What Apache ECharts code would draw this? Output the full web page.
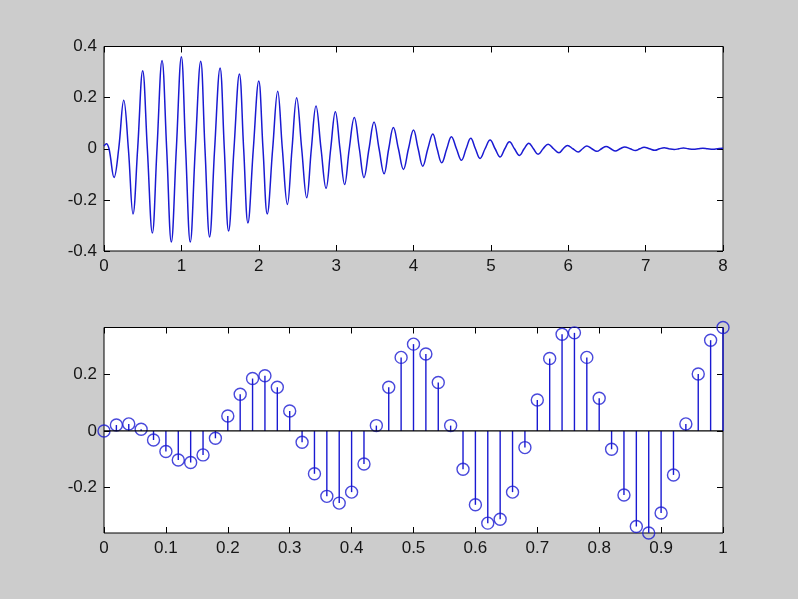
<!DOCTYPE html>
<html>
<head>
<meta charset="utf-8">
<script src="https://cdn.jsdelivr.net/npm/echarts@6/dist/echarts.min.js"></script>
<style>
  html, body { margin: 0; padding: 0; background: #cccccc; }
  #chart { width: 798px; height: 599px; }
</style>
</head>
<body>
<div id="chart"></div>
<script>
// ---- Top panel: damped oscillation (t, value) ----
var topPoints = [
  [0, 0.01], [0.03, 0.02], [0.065, 0], [0.13, -0.112], [0.19, 0],
  [0.255, 0.19], [0.315, 0], [0.375, -0.255], [0.435, 0],
  [0.5, 0.305], [0.56, 0], [0.625, -0.33], [0.685, 0],
  [0.75, 0.345], [0.81, 0], [0.87, -0.365], [0.935, 0],
  [1.0, 0.36], [1.055, 0], [1.115, -0.365], [1.18, 0],
  [1.25, 0.342], [1.305, 0], [1.365, -0.345], [1.43, 0],
  [1.5, 0.316], [1.555, 0], [1.61, -0.322], [1.68, 0],
  [1.75, 0.292], [1.805, 0], [1.86, -0.29], [1.93, 0],
  [2.0, 0.265], [2.055, 0], [2.11, -0.255], [2.18, 0],
  [2.245, 0.225], [2.305, 0], [2.37, -0.218], [2.43, 0],
  [2.49, 0.2], [2.555, 0], [2.62, -0.192], [2.68, 0],
  [2.74, 0.167], [2.805, 0], [2.87, -0.155], [2.93, 0],
  [2.99, 0.145], [3.05, 0], [3.11, -0.14], [3.17, 0],
  [3.235, 0.122], [3.3, 0], [3.36, -0.113], [3.425, 0],
  [3.49, 0.105], [3.555, 0], [3.62, -0.098], [3.68, 0],
  [3.74, 0.083], [3.805, 0], [3.87, -0.081], [3.935, 0],
  [4.0, 0.073], [4.06, 0], [4.12, -0.068], [4.185, 0],
  [4.25, 0.058], [4.305, 0], [4.365, -0.055], [4.43, 0],
  [4.49, 0.047], [4.555, 0], [4.62, -0.045], [4.68, 0],
  [4.74, 0.041], [4.8, 0], [4.86, -0.038], [4.925, 0],
  [4.99, 0.034], [5.055, 0], [5.12, -0.032], [5.18, 0],
  [5.24, 0.027], [5.305, 0], [5.37, -0.026], [5.43, 0],
  [5.49, 0.022], [5.55, 0], [5.61, -0.022], [5.675, 0],
  [5.74, 0.018], [5.81, 0], [5.88, -0.016], [5.935, 0],
  [5.99, 0.013], [6.06, 0], [6.13, -0.013], [6.185, 0],
  [6.24, 0.011], [6.305, 0], [6.37, -0.01], [6.43, 0],
  [6.49, 0.009], [6.55, 0], [6.61, -0.009], [6.67, 0],
  [6.73, 0.007], [6.8, 0], [6.87, -0.007], [6.925, 0],
  [6.98, 0.006], [7.05, 0], [7.12, -0.006], [7.18, 0],
  [7.24, 0.004], [7.3, 0], [7.37, -0.003], [7.43, 0],
  [7.49, 0.003], [7.55, 0], [7.62, -0.002], [7.68, 0],
  [7.74, 0.002], [7.8, 0], [7.87, -0.002], [7.93, 0],
  [8.0, 0.002]
];

// ---- Bottom panel: stem samples ----
var stemT = [
  0, 0.02, 0.04, 0.06, 0.08, 0.10, 0.12, 0.14, 0.16, 0.18,
  0.20, 0.22, 0.24, 0.26, 0.28, 0.30, 0.32, 0.34, 0.36, 0.38,
  0.40, 0.42, 0.44, 0.46, 0.48, 0.50, 0.52, 0.54, 0.56, 0.58,
  0.60, 0.62, 0.64, 0.66, 0.68, 0.70, 0.72, 0.74, 0.76, 0.78,
  0.80, 0.82, 0.84, 0.86, 0.88, 0.90, 0.92, 0.94, 0.96, 0.98, 1.00
];
var stemV = [
  0, 0.021, 0.025, 0.006, -0.032, -0.073, -0.103, -0.112, -0.085, -0.026,
  0.053, 0.13, 0.186, 0.196, 0.155, 0.071, -0.04, -0.152, -0.232, -0.256,
  -0.217, -0.117, 0.019, 0.155, 0.261, 0.308, 0.273, 0.172, 0.019, -0.136,
  -0.262, -0.327, -0.313, -0.217, -0.059, 0.11, 0.257, 0.343, 0.348, 0.261,
  0.116, -0.065, -0.227, -0.339, -0.362, -0.291, -0.156, 0.025, 0.202, 0.322, 0.367
];

// tick labels
var topXTicks = [0, 1, 2, 3, 4, 5, 6, 7, 8];
var topYTicks = [-0.4, -0.2, 0, 0.2, 0.4];
var botXTicks = [0, 0.1, 0.2, 0.3, 0.4, 0.5, 0.6, 0.7, 0.8, 0.9, 1];
var botYTicks = [-0.2, 0, 0.2];

var stemData = stemT.map(function (t, i) { return [t, stemV[i]]; });
var botMin = Math.min.apply(null, stemV);
var botMax = Math.max.apply(null, stemV);
var baseLine = [[botXTicks[0], 0], [botXTicks[botXTicks.length - 1], 0]];

var blue = '#1a1ad2';
var font = { color: '#161616', fontSize: 17, fontFamily: 'Liberation Sans, Arial, sans-serif' };
var tickStyle = { color: '#000', width: 1 };

function tickAxis(extra) {
  var base = {
    axisLine: { show: false, onZero: false },
    axisTick: { show: true, inside: true, length: 6, lineStyle: tickStyle },
    splitLine: { show: false },
    axisLabel: Object.assign({ show: true, margin: 7 }, font)
  };
  return Object.assign(base, extra);
}

var chart = echarts.init(document.getElementById('chart'), null, { renderer: 'canvas' });
chart.setOption({
  animation: false,
  backgroundColor: '#cccccc',
  grid: [
    { left: 104, top: 46.5, width: 619, height: 204.5, show: true, backgroundColor: '#ffffff', borderColor: '#000', borderWidth: 1 },
    { left: 104, top: 327.5, width: 619, height: 205.5, show: true, backgroundColor: '#ffffff', borderColor: '#000', borderWidth: 1 }
  ],
  xAxis: [
    tickAxis({ type: 'value', gridIndex: 0, position: 'bottom', min: topXTicks[0], max: topXTicks[topXTicks.length - 1], interval: 1 }),
    tickAxis({ type: 'value', gridIndex: 0, position: 'top', min: topXTicks[0], max: topXTicks[topXTicks.length - 1], interval: 1, axisLabel: { show: false } }),
    tickAxis({ type: 'value', gridIndex: 1, position: 'bottom', min: botXTicks[0], max: botXTicks[botXTicks.length - 1], interval: 0.1 }),
    tickAxis({ type: 'value', gridIndex: 1, position: 'top', min: botXTicks[0], max: botXTicks[botXTicks.length - 1], interval: 0.1, axisLabel: { show: false } })
  ],
  yAxis: [
    tickAxis({ type: 'value', gridIndex: 0, position: 'left', min: topYTicks[0], max: topYTicks[topYTicks.length - 1], interval: 0.2 }),
    tickAxis({ type: 'value', gridIndex: 0, position: 'right', min: topYTicks[0], max: topYTicks[topYTicks.length - 1], interval: 0.2, axisLabel: { show: false } }),
    tickAxis({ type: 'value', gridIndex: 1, position: 'left', min: botMin, max: botMax,
      axisTick: { show: true, inside: true, length: 6, customValues: botYTicks, lineStyle: tickStyle },
      axisLabel: Object.assign({ show: true, margin: 7, customValues: botYTicks }, font) }),
    tickAxis({ type: 'value', gridIndex: 1, position: 'right', min: botMin, max: botMax,
      axisTick: { show: true, inside: true, length: 6, customValues: botYTicks, lineStyle: tickStyle },
      axisLabel: { show: false } })
  ],
  series: [
    {
      type: 'line', xAxisIndex: 0, yAxisIndex: 0,
      data: topPoints, showSymbol: false, smooth: 0.4,
      lineStyle: { color: blue, width: 1.5 }, silent: true
    },
    {
      type: 'bar', xAxisIndex: 2, yAxisIndex: 2,
      data: stemData, barWidth: 1.4,
      itemStyle: { color: blue }, silent: true, z: 2
    },
    {
      type: 'scatter', xAxisIndex: 2, yAxisIndex: 2,
      data: stemData, symbol: 'circle', symbolSize: 12, clip: false,
      itemStyle: { color: 'rgba(0,0,0,0)', borderColor: blue, borderWidth: 1.4 },
      silent: true, z: 3
    },
    {
      type: 'line', xAxisIndex: 2, yAxisIndex: 2,
      data: baseLine, showSymbol: false,
      lineStyle: { color: '#000', width: 1.3 }, silent: true, z: 4
    }
  ]
});
</script>
</body>
</html>
